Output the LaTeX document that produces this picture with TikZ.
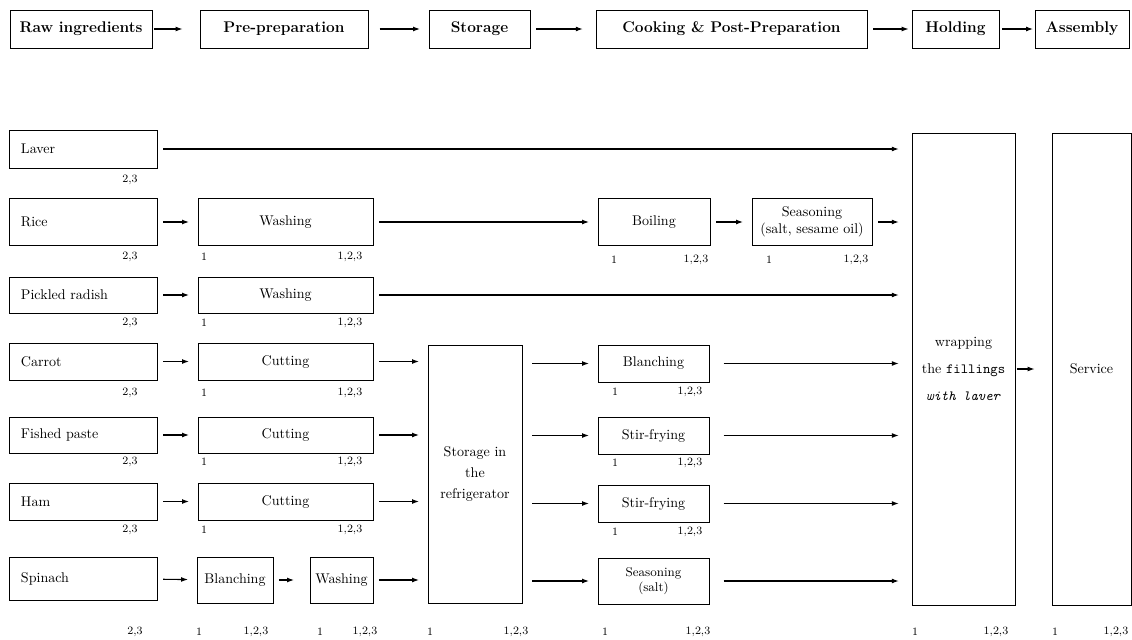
\documentclass[tikz,border=0pt]{standalone}
\usetikzlibrary{arrows.meta,positioning}
\begin{document}
\begin{tikzpicture}[
        x=0.025cm, y=-0.025cm,
        font=\normalsize,
        box/.style={draw, line width=0.7pt, align=center, inner sep=2pt},
        sz/.style 2 args={minimum width=#1*0.025cm, minimum height=#2*0.025cm},
        head/.style={box, font=\fontsize{11}{13}\selectfont\bfseries, sz={#1}{38}},
        src/.style={box, sz={147}{#1}, text width=3.125cm, inner xsep=0.275cm, align=left},
        num/.style={font=\footnotesize, inner sep=0pt},
        arrow/.style={-{Latex[length=5pt,width=3.5pt]}, line width=0.8pt, shorten <=4pt, shorten >=6pt},
        towrap/.style={arrow, shorten >=9pt}
        ]
        \useasboundingbox (0,0) rectangle (1132,639);

        \node[head=142] (hraw) at (81,29) {Raw ingredients};
        \node[head=168] (hpre) at (284,29) {Pre-preparation};
        \node[head=101] (hsto) at (479.5,29) {Storage};
        \node[head=271] (hcook) at (731.5,29) {Cooking \& Post-Preparation};
        \node[head=87] (hhold) at (955.5,29) {Holding};
        \node[head=94] (hasm) at (1082,29) {Assembly};

        \draw[arrow, shorten <=1pt, shorten >=12pt] (hraw) -- (hpre);
        \draw[arrow, shorten <=8pt] (hpre) -- (hsto);
        \draw[arrow, shorten >=9pt] (hsto) -- (hcook);
        \draw[arrow, shorten >=2pt] (hcook) -- (hhold);
        \draw[arrow, shorten <=2pt, shorten >=1pt] (hhold) -- (hasm);

        \node[src=38] (laver) at (83.5,149) {Laver};
        \node[src=47] (rice) at (83.5,222) {Rice};
        \node[src=36] (radish) at (83.5,295) {Pickled radish};
        \node[src=37] (carrot) at (83.5,361.5) {Carrot};
        \node[src=36] (paste) at (83.5,435) {Fished paste};
        \node[src=37] (ham) at (83.5,501.5) {Ham};
        \node[src=43] (spinach) at (83.5,578.5) {Spinach};

        \node[box, sz={175}{47}] (wash1) at (285.5,222) {Washing};
        \node[box, sz={175}{36}] (wash2) at (285.5,295) {Washing};
        \node[box, sz={175}{37}] (cut1) at (285.5,361.5) {Cutting};
        \node[box, sz={175}{36}] (cut2) at (285.5,435) {Cutting};
        \node[box, sz={175}{37}] (cut3) at (285.5,501.5) {Cutting};
        \node[box, sz={76}{46}] (blanch1) at (235,580) {Blanching};
        \node[box, sz={63}{46}] (wash3) at (341.5,580) {Washing};

        \node[box, sz={94}{258}] (fridge) at (475,474) {Storage in\\[3pt]the\\[3pt]refrigerator};

        \node[box, sz={112}{47}] (boil) at (654,222) {Boiling};
        \node[box, sz={120}{47}] (season1) at (812,222) {Seasoning\\(salt, sesame oil)};
        \node[box, sz={111}{37}] (blanch2) at (653.5,363.5) {Blanching};
        \node[box, sz={111}{37}] (fry1) at (653.5,435.5) {Stir-frying};
        \node[box, sz={111}{37}] (fry2) at (653.5,503.5) {Stir-frying};
        \node[box, sz={111}{46}, font=\small] (season2) at (653.5,581) {Seasoning\\(salt)};

        \node[box, sz={103}{472}] (wrap) at (963.5,369) {wrapping\\[7pt]the \texttt{fillings}\\[7pt]\textit{\texttt{with laver}}};
        \node[box, sz={79}{472}] (service) at (1091.5,369) {Service};

        \draw[towrap] (laver) -- (laver -| wrap.west);
        \draw[arrow] (rice) -- (wash1);
        \draw[arrow] (wash1) -- (boil);
        \draw[arrow] (boil) -- (season1);
        \draw[towrap] (season1) -- (season1 -| wrap.west);
        \draw[arrow] (radish) -- (wash2);
        \draw[towrap] (wash2) -- (wash2 -| wrap.west);
        \draw[arrow] (carrot) -- (cut1);
        \draw[arrow] (paste) -- (cut2);
        \draw[arrow] (ham) -- (cut3);
        \draw[arrow] (spinach) -- (blanch1);
        \draw[arrow, shorten >=11pt] (blanch1) -- (wash3);
        \draw[arrow] (cut1) -- (cut1 -| fridge.west);
        \draw[arrow] (cut2) -- (cut2 -| fridge.west);
        \draw[arrow] (cut3) -- (cut3 -| fridge.west);
        \draw[arrow] (wash3) -- (wash3 -| fridge.west);
        \draw[arrow, shorten <=7pt] (fridge.east |- blanch2) -- (blanch2);
        \draw[arrow, shorten <=7pt] (fridge.east |- fry1) -- (fry1);
        \draw[arrow, shorten <=7pt] (fridge.east |- fry2) -- (fry2);
        \draw[arrow, shorten <=7pt] (fridge.east |- season2) -- (season2);
        \draw[towrap, shorten <=10pt] (blanch2) -- (blanch2 -| wrap.west);
        \draw[towrap, shorten <=10pt] (fry1) -- (fry1 -| wrap.west);
        \draw[towrap, shorten <=10pt] (fry2) -- (fry2 -| wrap.west);
        \draw[towrap, shorten <=10pt] (season2) -- (season2 -| wrap.west);
        \draw[arrow, shorten <=1pt, shorten >=12pt] (wrap) -- (service);

        \foreach \y [count=\i] in {180,257,323,393,462,530} \node[num] (s\i) at (130,\y) {2,3};
        \node[num] (s7) at (135,632) {2,3};
        \foreach \y [count=\i] in {257,323,393,462,530} {
            \node[num] (pa\i) at (204,\y) {1};
            \node[num] (pb\i) at (350,\y) {1,2,3};
        }
        \node[num] (pa6) at (199,632) {1};
        \node[num] (pb6) at (256,632) {1,2,3};
        \node[num] (pa7) at (320,632) {1};
        \node[num] (pb7) at (365,632) {1,2,3};
        \node[num] (fa) at (430,632) {1};
        \node[num] (fb) at (516,632) {1,2,3};
        \node[num] (ca1) at (614,260) {1};
        \node[num] (cb1) at (696,260) {1,2,3};
        \node[num] (ca2) at (769,260) {1};
        \node[num] (cb2) at (856,260) {1,2,3};
        \foreach \y [count=\i from 3] in {392,463,532} {
            \node[num] (ca\i) at (615,\y) {1};
            \node[num] (cb\i) at (690,\y) {1,2,3};
        }
        \node[num] (ca6) at (605,632) {1};
        \node[num] (cb6) at (698,632) {1,2,3};
        \node[num] (wa) at (915,632) {1};
        \node[num] (wb) at (996,632) {1,2,3};
        \node[num] (va) at (1055,632) {1};
        \node[num] (vb) at (1116,632) {1,2,3};
\end{tikzpicture}
\end{document}
